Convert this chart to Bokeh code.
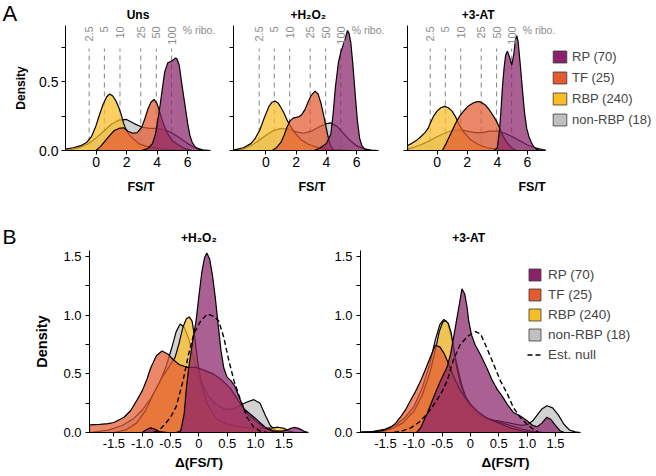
from bokeh.plotting import figure
from bokeh.models import Range1d, FixedTicker, Label, Legend, LegendItem
from bokeh.layouts import row, column
from bokeh.core.properties import value
from bokeh.embed import file_html
from bokeh.resources import INLINE
import math

FONT = "Liberation Sans"
NAN = float("nan")

# ---------------- data ----------------
groups = ["non-RBP", "RBP", "TF", "RP"]          # drawing order (bottom -> top)
legend_order = ["RP", "TF", "RBP", "non-RBP"]
legend_labels = {"RP": "RP (70)", "TF": "TF (25)", "RBP": "RBP (240)", "non-RBP": "non-RBP (18)"}
colors = {"RP": "#8A226A", "TF": "#E45A31", "RBP": "#F9BD25", "non-RBP": "#C0C0C0"}

ribo_labels = ["2.5", "5", "10", "25", "50", "100"]
ribo_x = [-0.45, 0.55, 1.57, 2.93, 3.95, 4.95]

a_xticks = [0, 2, 4, 6]
a_yticks = [0.0, 0.5]
a_yminor = [0.25, 0.75]
b_xticks = [-1.5, -1.0, -0.5, 0.0, 0.5, 1.0, 1.5]
b_xtick_labels = ["-1.5", "-1.0", "-0.5", "0", "0.5", "1.0", "1.5"]
b_yticks = [0.0, 0.5, 1.0, 1.5]
b_yminor = [0.25, 0.75, 1.25]

# Panel A: Uns
uns_nonrbp_x = [-2.0, -1.5, -1.0, -0.5, 0.0, 0.5, 1.0, 1.5, 2.0, 2.5, 3.0, 3.5, 4.0, 4.5, 5.0, 5.5, 6.0, 6.5, 7.0, 7.5]
uns_nonrbp_y = [0.0, 0.01, 0.025, 0.05, 0.09, 0.14, 0.19, 0.22, 0.225, 0.195, 0.17, 0.16, 0.16, 0.15, 0.125, 0.09, 0.05, 0.02, 0.005, 0.0]
uns_rbp_x = [-2.0, -1.5, -1.0, -0.6, -0.3, 0.0, 0.2, 0.45, 0.7, 0.9, 1.1, 1.3, 1.5, 1.65, 1.8, 1.95, 2.2, 2.5, 2.8, 3.3, 4.0, 5.0, 6.0]
uns_rbp_y = [0.01, 0.02, 0.035, 0.06, 0.1, 0.18, 0.25, 0.33, 0.39, 0.41, 0.395, 0.36, 0.31, 0.26, 0.2, 0.155, 0.11, 0.08, 0.05, 0.03, 0.015, 0.005, 0.0]
uns_tf_x = [0.0, 0.3, 0.6, 0.9, 1.2, 1.5, 1.8, 2.1, 2.4, 2.7, 3.0, 3.2, 3.4, 3.6, 3.8, 4.0, 4.2, 4.4, 4.7, 5.0, 5.4, 5.8, 6.3]
uns_tf_y = [0.0, 0.03, 0.07, 0.11, 0.145, 0.16, 0.165, 0.14, 0.125, 0.13, 0.17, 0.23, 0.3, 0.35, 0.37, 0.34, 0.27, 0.2, 0.12, 0.07, 0.04, 0.015, 0.0]
uns_rp_x = [3.0, 3.4, 3.7, 3.9, 4.15, 4.35, 4.5, 4.7, 4.9, 5.05, 5.2, 5.3, 5.45, 5.6, 5.8, 6.0, 6.15, 6.3, 6.5, 6.8, 7.0]
uns_rp_y = [0.0, 0.015, 0.05, 0.12, 0.29, 0.45, 0.57, 0.635, 0.645, 0.655, 0.67, 0.665, 0.62, 0.5, 0.35, 0.2, 0.11, 0.06, 0.025, 0.005, 0.0]

# Panel A: +H2O2
h2o2_nonrbp_x = [-2.15, -1.5, -1.0, -0.5, 0.0, 0.5, 1.0, 1.5, 2.0, 2.5, 3.0, 3.5, 4.0, 4.3, 4.7, 5.0, 5.5, 6.0, 6.5, 7.0, 7.45]
h2o2_nonrbp_y = [0.0, 0.01, 0.035, 0.07, 0.11, 0.145, 0.16, 0.155, 0.135, 0.125, 0.14, 0.17, 0.195, 0.2, 0.175, 0.14, 0.08, 0.035, 0.012, 0.003, 0.0]
h2o2_rbp_x = [-2.1, -1.5, -1.0, -0.7, -0.4, -0.1, 0.2, 0.4, 0.6, 0.8, 1.0, 1.2, 1.4, 1.6, 1.9, 2.3, 2.8, 3.5, 4.5, 5.5]
h2o2_rbp_y = [0.005, 0.02, 0.05, 0.09, 0.15, 0.24, 0.32, 0.35, 0.358, 0.345, 0.31, 0.27, 0.22, 0.18, 0.13, 0.08, 0.045, 0.02, 0.005, 0.0]
h2o2_tf_x = [0.4, 0.7, 1.0, 1.2, 1.4, 1.6, 1.8, 2.0, 2.2, 2.4, 2.6, 2.8, 3.0, 3.25, 3.45, 3.65, 3.85, 4.0, 4.15, 4.3, 4.5]
h2o2_tf_y = [0.0, 0.02, 0.06, 0.11, 0.17, 0.215, 0.235, 0.24, 0.245, 0.265, 0.3, 0.355, 0.4, 0.43, 0.41, 0.34, 0.24, 0.16, 0.08, 0.03, 0.0]
h2o2_rp_x = [3.2, 3.6, 4.0, 4.3, 4.45, 4.6, 4.8, 4.95, 5.1, 5.25, 5.4, 5.5, 5.62, 5.75, 5.9, 6.05, 6.2, 6.35, 6.55, 6.8]
h2o2_rp_y = [0.0, 0.02, 0.05, 0.12, 0.27, 0.46, 0.64, 0.71, 0.76, 0.81, 0.87, 0.85, 0.78, 0.63, 0.42, 0.22, 0.09, 0.035, 0.01, 0.0]

# Panel A: +3-AT
at3_nonrbp_x = [-1.96, -1.5, -1.0, -0.5, 0.0, 0.5, 1.0, 1.5, 2.0, 2.5, 3.0, 3.5, 4.0, 4.5, 5.0, 5.5, 6.0, 6.5, 7.0, 7.2]
at3_nonrbp_y = [0.01, 0.025, 0.045, 0.07, 0.1, 0.125, 0.145, 0.15, 0.14, 0.13, 0.13, 0.14, 0.14, 0.125, 0.1, 0.07, 0.04, 0.02, 0.006, 0.003]
at3_rbp_x = [-1.96, -1.7, -1.4, -1.08, -0.8, -0.6, -0.4, -0.2, 0.0, 0.25, 0.5, 0.75, 1.0, 1.25, 1.5, 1.8, 2.2, 2.7, 3.3, 4.0, 5.0]
at3_rbp_y = [0.036, 0.05, 0.07, 0.1, 0.13, 0.16, 0.21, 0.255, 0.285, 0.31, 0.32, 0.31, 0.285, 0.24, 0.18, 0.13, 0.08, 0.045, 0.02, 0.008, 0.0]
at3_tf_x = [0.35, 0.6, 0.9, 1.2, 1.5, 1.8, 2.1, 2.4, 2.6, 2.8, 3.0, 3.2, 3.5, 3.8, 4.0, 4.2, 4.4, 4.7, 5.0, 5.3]
at3_tf_y = [0.0, 0.05, 0.12, 0.19, 0.25, 0.29, 0.325, 0.345, 0.352, 0.355, 0.345, 0.33, 0.29, 0.24, 0.2, 0.15, 0.1, 0.05, 0.015, 0.0]
at3_rp_x = [3.8, 4.0, 4.12, 4.23, 4.34, 4.45, 4.55, 4.67, 4.8, 4.96, 5.1, 5.2, 5.29, 5.38, 5.5, 5.66, 5.8, 5.95, 6.1, 6.25, 6.4, 6.6, 6.8]
at3_rp_y = [0.0, 0.02, 0.12, 0.27, 0.46, 0.6, 0.69, 0.72, 0.68, 0.62, 0.7, 0.8, 0.833, 0.79, 0.65, 0.45, 0.28, 0.16, 0.1, 0.06, 0.03, 0.01, 0.0]

# Panel B: +H2O2 (delta)
dh_nonrbp_x = [-1.93, -1.6, -1.35, -1.15, -1.0, -0.85, -0.7, -0.58, -0.48, -0.4, -0.33, -0.26, -0.18, -0.1, 0.0, 0.15, 0.3, 0.45, 0.6, 0.72, 0.85, 0.97, 1.08, 1.17, 1.26, 1.36, 1.5]
dh_nonrbp_y = [0.0, 0.02, 0.06, 0.12, 0.19, 0.29, 0.42, 0.56, 0.72, 0.86, 0.925, 0.9, 0.8, 0.65, 0.48, 0.32, 0.24, 0.2, 0.2, 0.23, 0.26, 0.28, 0.25, 0.15, 0.06, 0.015, 0.0]
dh_rbp_x = [-1.5, -1.3, -1.1, -0.95, -0.8, -0.65, -0.5, -0.42, -0.35, -0.28, -0.22, -0.17, -0.12, -0.07, -0.02, 0.05, 0.15, 0.3, 0.5, 0.7, 0.9, 1.1, 1.3, 1.4, 1.5, 1.6, 1.7]
dh_rbp_y = [0.0, 0.02, 0.08, 0.18, 0.33, 0.47, 0.58, 0.64, 0.76, 0.9, 0.97, 0.985, 0.95, 0.8, 0.6, 0.4, 0.24, 0.12, 0.07, 0.05, 0.04, 0.035, 0.04, 0.045, 0.035, 0.01, 0.0]
dh_tf_x = [-1.93, -1.75, -1.6, -1.5, -1.32, -1.2, -1.1, -1.0, -0.92, -0.85, -0.75, -0.65, -0.55, -0.45, -0.35, -0.2, -0.05, 0.1, 0.25, 0.4, 0.55, 0.7, 0.85, 1.0, 1.15, 1.3, 1.45]
dh_tf_y = [0.065, 0.07, 0.075, 0.085, 0.13, 0.19, 0.27, 0.355, 0.45, 0.55, 0.655, 0.695, 0.67, 0.62, 0.58, 0.555, 0.555, 0.53, 0.5, 0.45, 0.38, 0.27, 0.16, 0.1, 0.04, 0.01, 0.0]
dh_rp_x = [-1.0, -0.92, -0.85, -0.78, -0.7, -0.55, -0.4, -0.32, -0.26, -0.22, -0.18, -0.1, -0.05, 0.0, 0.05, 0.1, 0.14, 0.19, 0.24, 0.29, 0.34, 0.39, 0.44, 0.5, 0.57, 0.64, 0.72, 0.8, 0.9, 1.0, 1.1, 1.2, 1.32, 1.45, 1.55, 1.62, 1.68, 1.76, 1.85, 1.93]
dh_rp_y = [0.0, 0.025, 0.04, 0.03, 0.008, 0.0, 0.0, 0.014, 0.156, 0.38, 0.55, 0.81, 0.95, 1.16, 1.36, 1.49, 1.53, 1.48, 1.34, 1.15, 0.92, 0.7, 0.55, 0.47, 0.44, 0.39, 0.29, 0.2, 0.16, 0.12, 0.075, 0.035, 0.014, 0.012, 0.018, 0.035, 0.043, 0.035, 0.012, 0.0]
dh_null_x = [-0.8, -0.7, -0.6, -0.5, -0.4, -0.28, -0.18, -0.09, 0.03, 0.15, 0.27, 0.35, 0.44, 0.53, 0.62, 0.74, 0.85, 0.97, 1.09, 1.2]
dh_null_y = [0.0, 0.02, 0.07, 0.13, 0.22, 0.44, 0.67, 0.84, 0.95, 1.01, 0.99, 0.95, 0.81, 0.61, 0.44, 0.27, 0.13, 0.045, 0.01, 0.0]

# Panel B: +3-AT (delta)
da_nonrbp_x = [-1.94, -1.7, -1.5, -1.3, -1.15, -1.0, -0.85, -0.72, -0.62, -0.54, -0.47, -0.4, -0.33, -0.25, -0.15, -0.05, 0.1, 0.3, 0.5, 0.7, 0.9, 1.02, 1.1, 1.18, 1.26, 1.35, 1.45, 1.55, 1.65, 1.75, 1.85, 1.94]
da_nonrbp_y = [0.0, 0.01, 0.03, 0.07, 0.13, 0.22, 0.38, 0.58, 0.79, 0.92, 0.965, 0.93, 0.8, 0.6, 0.4, 0.25, 0.15, 0.11, 0.1, 0.08, 0.06, 0.07, 0.1, 0.15, 0.2, 0.228, 0.21, 0.15, 0.07, 0.02, 0.005, 0.0]
da_rbp_x = [-1.6, -1.4, -1.2, -1.0, -0.85, -0.72, -0.62, -0.55, -0.49, -0.44, -0.39, -0.34, -0.29, -0.24, -0.18, -0.1, 0.0, 0.15, 0.3, 0.5, 0.7, 0.9, 1.1, 1.3]
da_rbp_y = [0.0, 0.03, 0.08, 0.18, 0.32, 0.5, 0.7, 0.86, 0.94, 0.955, 0.93, 0.85, 0.7, 0.55, 0.42, 0.32, 0.24, 0.16, 0.12, 0.09, 0.06, 0.03, 0.01, 0.0]
da_tf_x = [-1.94, -1.75, -1.6, -1.5, -1.41, -1.32, -1.24, -1.15, -1.06, -0.97, -0.88, -0.8, -0.71, -0.62, -0.54, -0.46, -0.38, -0.3, -0.2, -0.1, 0.0, 0.15, 0.3, 0.5, 0.7, 0.9, 1.1]
da_tf_y = [0.005, 0.008, 0.012, 0.025, 0.043, 0.08, 0.128, 0.19, 0.27, 0.35, 0.44, 0.53, 0.64, 0.744, 0.73, 0.67, 0.58, 0.48, 0.38, 0.3, 0.24, 0.17, 0.12, 0.08, 0.04, 0.015, 0.0]
da_rp_x = [-0.95, -0.88, -0.77, -0.65, -0.53, -0.41, -0.35, -0.29, -0.24, -0.2, -0.15, -0.1, -0.06, -0.03, 0.02, 0.08, 0.18, 0.29, 0.38, 0.47, 0.56, 0.65, 0.76, 0.88, 1.0, 1.1, 1.18, 1.26, 1.35, 1.42, 1.5, 1.58, 1.66]
da_rp_y = [0.0, 0.04, 0.155, 0.3, 0.44, 0.56, 0.67, 0.83, 0.97, 1.08, 1.225, 1.18, 1.07, 0.95, 0.83, 0.75, 0.66, 0.55, 0.45, 0.37, 0.31, 0.24, 0.17, 0.14, 0.1, 0.06, 0.05, 0.08, 0.13, 0.11, 0.06, 0.015, 0.0]
da_null_x = [-1.35, -1.2, -1.05, -0.9, -0.8, -0.7, -0.6, -0.5, -0.41, -0.3, -0.18, -0.05, 0.09, 0.18, 0.29, 0.41, 0.53, 0.65, 0.76, 0.88, 1.0, 1.1, 1.2]
da_null_y = [0.0, 0.014, 0.04, 0.09, 0.14, 0.2, 0.27, 0.35, 0.44, 0.62, 0.75, 0.82, 0.86, 0.84, 0.72, 0.58, 0.44, 0.33, 0.21, 0.128, 0.07, 0.03, 0.005]

panel_a = {
    "Uns": {"non-RBP": (uns_nonrbp_x, uns_nonrbp_y), "RBP": (uns_rbp_x, uns_rbp_y),
            "TF": (uns_tf_x, uns_tf_y), "RP": (uns_rp_x, uns_rp_y)},
    "+H\u2082O\u2082": {"non-RBP": (h2o2_nonrbp_x, h2o2_nonrbp_y), "RBP": (h2o2_rbp_x, h2o2_rbp_y),
                        "TF": (h2o2_tf_x, h2o2_tf_y), "RP": (h2o2_rp_x, h2o2_rp_y)},
    "+3-AT": {"non-RBP": (at3_nonrbp_x, at3_nonrbp_y), "RBP": (at3_rbp_x, at3_rbp_y),
              "TF": (at3_tf_x, at3_tf_y), "RP": (at3_rp_x, at3_rp_y)},
}
panel_b = {
    "+H\u2082O\u2082": ({"non-RBP": (dh_nonrbp_x, dh_nonrbp_y), "RBP": (dh_rbp_x, dh_rbp_y),
                         "TF": (dh_tf_x, dh_tf_y), "RP": (dh_rp_x, dh_rp_y)}, (dh_null_x, dh_null_y)),
    "+3-AT": ({"non-RBP": (da_nonrbp_x, da_nonrbp_y), "RBP": (da_rbp_x, da_rbp_y),
               "TF": (da_tf_x, da_tf_y), "RP": (da_rp_x, da_rp_y)}, (da_null_x, da_null_y)),
}

# ---------------- helpers ----------------
def base_fig(xr, yr, fw, fh, bl, br, bt, bb):
    p = figure(frame_width=fw, frame_height=fh, x_range=Range1d(*xr), y_range=Range1d(*yr),
               min_border_left=bl, min_border_right=br, min_border_top=bt, min_border_bottom=bb,
               toolbar_location=None, output_backend="svg", title=None)
    p.outline_line_color = None
    p.xgrid.visible = False
    p.ygrid.visible = False
    p.background_fill_color = "white"
    p.border_fill_color = "white"
    for ax in (p.xaxis[0], p.yaxis[0]):
        ax.axis_line_color = "black"
        ax.axis_line_width = 1
        ax.major_tick_line_color = "black"
        ax.minor_tick_line_color = "black"
        ax.major_tick_in = 0
        ax.major_tick_out = 4
        ax.minor_tick_in = 0
        ax.minor_tick_out = 4
        ax.major_label_text_font = FONT
        ax.major_label_text_color = "black"
        ax.axis_label_text_font = FONT
        ax.axis_label_text_font_style = "bold"
        ax.axis_label_text_color = "black"
    return p


def header_fig(w, h, texts):
    """texts: list of (x_px, y_px_from_top (centre), text, size, bold, align)"""
    p = figure(width=w, height=h, x_range=Range1d(0, w), y_range=Range1d(0, h),
               x_axis_type=None, y_axis_type=None, min_border=0, toolbar_location=None,
               output_backend="svg", title=None)
    p.outline_line_color = None
    p.xgrid.visible = False
    p.ygrid.visible = False
    for (x, yt, t, size, bold, align) in texts:
        p.add_layout(Label(x=x, y=h - yt, text=t, text_font=FONT, text_font_size=size,
                           text_font_style="bold" if bold else "normal", text_baseline="middle",
                           text_align=align, text_color="black"))
    return p


def draw_densities(p, curves):
    for g in groups:
        xs, ys = curves[g]
        px = [xs[0]] + list(xs) + [xs[-1]]
        py = [0.0] + list(ys) + [0.0]
        p.patch(px, py, fill_color=colors[g], fill_alpha=0.72, line_color="black", line_width=1.2)


def add_label(p, x, y, text, size, bold=False, align="center", baseline="middle", color="black", angle=0.0):
    p.add_layout(Label(x=x, y=y, text=text, text_font=FONT, text_font_size=size,
                       text_font_style="bold" if bold else "normal", text_align=align,
                       text_baseline=baseline, text_color=color, angle=angle))


def legend_for(p, names, extra_null, loc, gw, gh, spacing, standoff, size):
    items = []
    for g in names:
        r = p.patch([NAN, NAN, NAN], [NAN, NAN, NAN], fill_color=colors[g], fill_alpha=1.0,
                    line_color="#3a3a3a", line_width=0.8)
        items.append(LegendItem(label=legend_labels[g], renderers=[r]))
    if extra_null:
        r = p.line([NAN, NAN], [NAN, NAN], line_color="black", line_width=1.5, line_dash="5 3")
        items.append(LegendItem(label="Est. null", renderers=[r]))
    lg = Legend(items=items, location=loc, glyph_width=gw, glyph_height=gh, label_height=gh,
                spacing=spacing, padding=0, margin=0, border_line_alpha=0, background_fill_alpha=0,
                label_text_font=FONT, label_text_font_size=size, label_standoff=standoff)
    p.add_layout(lg)


# ---------------- panel A ----------------
A_YMAX = 0.906
A_FRAME_H = 125
a_specs = [
    # name, x start, x end (data), px per unit, frame width, left border, right border, title x
    ("Uns", -2.0, 7.5, 15.26, 151, 65, 4, 2.75),
    ("+H\u2082O\u2082", -2.15, 7.45, 15.1, 157, 13, 3, 2.8),
    ("+3-AT", -1.96, 7.2, 15.07, 249, 14, 0, 2.73),
]
a_figs = []
a_header = [(2, 12.5, "A", "22px", False, "left")]
left_px = 0
for i, (name, x0, x1, ppu, fw, bl, br, tx) in enumerate(a_specs):
    frame_left = left_px + bl
    a_header.append((frame_left + (tx - x0) * ppu, 14, name, "12px", True, "center"))
    left_px = frame_left + fw + br
    xr = (x0, x0 + fw / ppu)
    p = base_fig(xr, (0, A_YMAX), fw, A_FRAME_H, bl, br, 0, 48)
    p.xaxis.bounds = (x0, x1)
    p.xaxis.ticker = FixedTicker(ticks=a_xticks)
    if i == 0:
        p.yaxis.ticker = FixedTicker(ticks=a_yticks, minor_ticks=a_yminor)
        p.yaxis.major_label_overrides = {0.0: "0.0", 0.5: "0.5"}
        p.yaxis.major_label_text_font_size = "14px"
        p.yaxis.major_label_standoff = 3
        p.yaxis.axis_label = "Density"
        p.yaxis.axis_label_text_font_size = "12px"
        p.yaxis.axis_label_standoff = 8
    else:
        p.yaxis.ticker = FixedTicker(ticks=[], minor_ticks=a_yticks + a_yminor)
    p.xaxis.major_label_text_font_size = "14px"
    p.xaxis.major_label_standoff = 2
    p.xaxis.axis_label = "FS/T"
    p.xaxis.axis_label_text_font_size = "12.5px"
    p.xaxis.axis_label_standoff = 10
    p.segment(x0=ribo_x, y0=[0.0] * len(ribo_x), x1=ribo_x, y1=[0.74] * len(ribo_x),
              line_color="#8f8f8f", line_width=1.1, line_dash="5 4")
    draw_densities(p, panel_a[name])
    for rx, rl in zip(ribo_x, ribo_labels):
        add_label(p, rx, 0.9, rl, "11px", align="right", baseline="middle", color="#8c8c8c", angle=math.pi / 2)
    add_label(p, 5.68, 0.87, "% ribo.", "10.5px", align="left", color="#8c8c8c")
    if i == 2:
        legend_for(p, legend_order, False, (144, 23), 17, 15, 6, 4, "13px")
    a_figs.append(p)

# ---------------- panel B ----------------
B_PPU_Y = 117.3
B_FRAME_H = 182
b_specs = [
    ("+H\u2082O\u2082", -1.93, 1.935, 56.67, 219, 89, 20, 0.0),
    ("+3-AT", -1.94, 1.94, 56.67, 290, 32, 2, -0.03),
]
b_figs = []
b_header = [(2, 37.5, "B", "21px", False, "left")]
left_px = 0
for i, (name, x0, x1, ppu, fw, bl, br, tx) in enumerate(b_specs):
    frame_left = left_px + bl
    b_header.append((frame_left + (tx - x0) * ppu, 39, name, "12px", True, "center"))
    left_px = frame_left + fw + br
    xr = (x0, x0 + fw / ppu)
    p = base_fig(xr, (0, B_FRAME_H / B_PPU_Y), fw, B_FRAME_H, bl, br, 0, 40)
    p.xaxis.bounds = (x0, x1)
    p.xaxis.ticker = FixedTicker(ticks=b_xticks)
    p.xaxis.major_label_overrides = dict(zip(b_xticks, b_xtick_labels))
    p.yaxis.ticker = FixedTicker(ticks=b_yticks, minor_ticks=b_yminor)
    p.yaxis.major_label_overrides = {0.0: "0.0", 0.5: "0.5", 1.0: "1.0", 1.5: "1.5"}
    p.xaxis.major_label_text_font_size = "13px"
    p.yaxis.major_label_text_font_size = "13px"
    p.xaxis.major_label_standoff = 2
    p.yaxis.major_label_standoff = 4
    p.xaxis.axis_label = "\u0394(FS/T)"
    p.xaxis.axis_label_text_font_size = "13.5px"
    p.xaxis.axis_label_standoff = 4
    if i == 0:
        p.yaxis.axis_label = "Density"
        p.yaxis.axis_label_text_font_size = "14.5px"
        p.yaxis.axis_label_standoff = 10
    curves, null = panel_b[name]
    draw_densities(p, curves)
    p.line(null[0], null[1], line_color="black", line_width=1.4, line_dash="5 3")
    if i == 1:
        legend_for(p, legend_order, True, (167, 70), 15, 15, 5, 6, "13.5px")
    b_figs.append(p)

hdr_a = header_fig(656, 25, a_header)
hdr_b = header_fig(656, 52, b_header)
layout = column(hdr_a, row(*a_figs), hdr_b, row(*b_figs))
open("out.html", "w").write(file_html(layout, INLINE))
